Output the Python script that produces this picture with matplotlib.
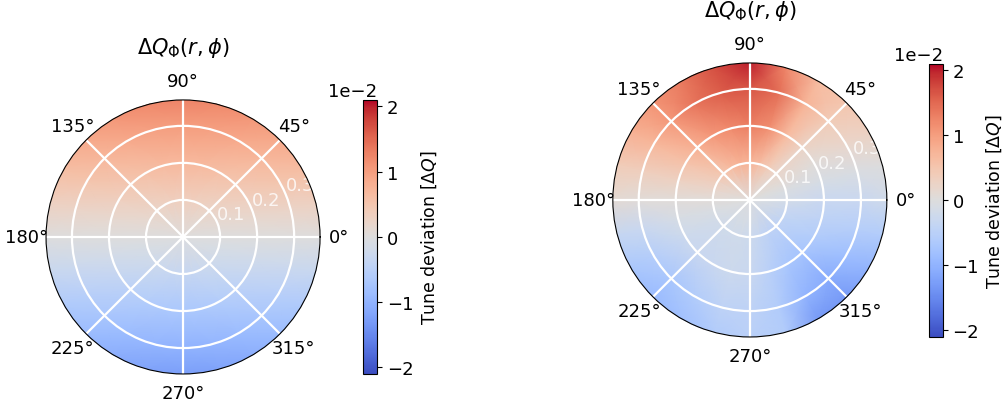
import numpy as np
import matplotlib.pyplot as plt

# sample grid of the tune map: angle (deg) x radius
phi_deg = [0, 15, 30, 45, 60, 75, 90, 105, 120, 135, 150, 165,
           180, 195, 210, 225, 240, 255, 270, 285, 300, 315, 330, 345]
r_ring = [0.0, 0.1, 0.2, 0.3, 0.37]

# tune deviation in units of 1e-2, one row per radius
dq_plain = [
    [0.0] * 24,
    [0, .09, .17, .24, .29, .33, .34, .33, .29, .24, .17, .09,
     0, -.09, -.17, -.24, -.29, -.33, -.34, -.33, -.29, -.24, -.17, -.09],
    [0, .18, .34, .48, .59, .66, .68, .66, .59, .48, .34, .18,
     0, -.18, -.34, -.48, -.59, -.66, -.68, -.66, -.59, -.48, -.34, -.18],
    [0, .26, .51, .71, .87, .98, 1.01, .98, .87, .71, .51, .26,
     0, -.26, -.51, -.71, -.87, -.98, -1.01, -.98, -.87, -.71, -.51, -.26],
    [0, .32, .63, .88, 1.08, 1.21, 1.25, 1.21, 1.08, .88, .63, .32,
     0, -.32, -.63, -.88, -1.08, -1.21, -1.25, -1.21, -1.08, -.88, -.63, -.32],
]

dq_twist = [
    [0.0] * 24,
    [-.15, -.05, .1, .2, .4, .6, .75, .75, .65, .5, .35, .2,
     .05, -.05, -.15, -.2, -.2, -.2, -.25, -.35, -.45, -.45, -.4, -.3],
    [-.3, -.1, .05, .25, .65, 1.15, 1.3, 1.2, 1.05, .8, .55, .3,
     .05, -.1, -.25, -.3, -.3, -.25, -.3, -.5, -.7, -.75, -.6, -.45],
    [-.3, -.05, .2, .4, .75, 1.45, 1.65, 1.6, 1.4, 1.05, .7, .35,
     .05, -.3, -.55, -.7, -.6, -.45, -.45, -.6, -1.0, -1.1, -.85, -.55],
    [-.2, 0, .3, .5, .65, 1.25, 2.0, 1.7, 1.35, 1.1, .8, .4,
     .1, -.35, -.7, -.9, -.8, -.6, -.5, -.6, -1.3, -1.3, -1.0, -.6],
]

vlim = 0.021
r_max = 0.37


def tune_panel(fig, rect, cbar_rect, dq):
    ax = fig.add_axes(rect, projection='polar')
    z = np.array(dq) * 1e-2
    # close the circle and add one ring past the edge so the clip circle is filled
    z = np.hstack([z, z[:, :1]])
    z = np.vstack([z, z[-1:]])
    th = np.deg2rad(phi_deg + [360])
    rr = np.array(r_ring + [0.42])
    T, R = np.meshgrid(th, rr)
    mesh = ax.pcolormesh(T, R, z, cmap='coolwarm', vmin=-vlim, vmax=vlim,
                         shading='gouraud')
    ax.set_ylim(0, r_max)
    ax.set_rticks([0.1, 0.2, 0.3])
    ax.grid(color='white', linewidth=1.6)
    ax.tick_params(axis='x', labelsize=13)
    ax.tick_params(axis='y', labelsize=13, labelcolor=(1, 1, 1, 0.8))
    ax.set_title(r'$\Delta Q_\Phi(r,\phi)$', fontsize=15, pad=34)

    cax = fig.add_axes(cbar_rect)
    cb = fig.colorbar(mesh, cax=cax)
    cb.set_ticks([-0.02, -0.01, 0, 0.01, 0.02])
    cb.formatter.set_powerlimits((0, 0))
    cb.update_ticks()
    cb.ax.tick_params(labelsize=13)
    cb.ax.yaxis.get_offset_text().set_fontsize(13)
    cb.set_label(r'Tune deviation [$\Delta Q$]', fontsize=12.5)
    return ax


fig = plt.figure(figsize=(10.03, 4.06), dpi=100)
tune_panel(fig, [0.0459, 0.0764, 0.2732, 0.675], [0.362, 0.0764, 0.014, 0.675], dq_plain)
tune_panel(fig, [0.611, 0.1675, 0.2732, 0.675], [0.926, 0.1675, 0.014, 0.673], dq_twist)
fig.savefig('out.png', dpi=100)
